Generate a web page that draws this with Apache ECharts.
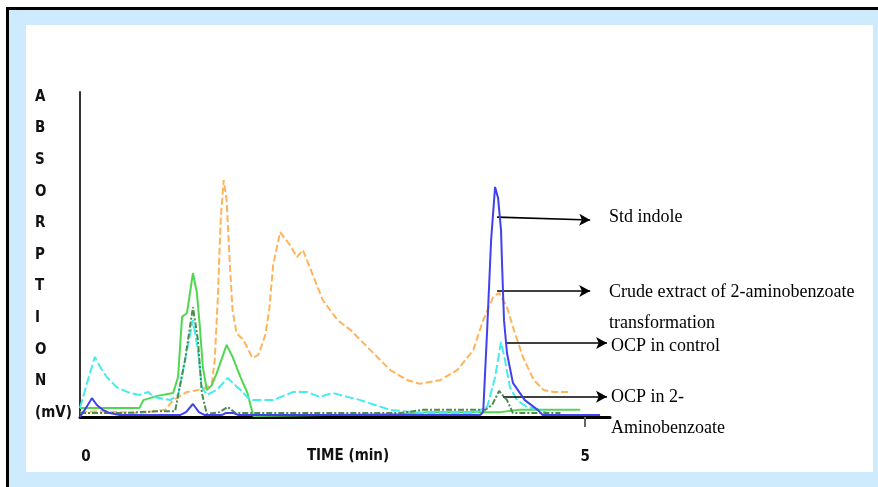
<!DOCTYPE html>
<html>
<head>
<meta charset="utf-8">
<script src="https://cdn.jsdelivr.net/npm/echarts@6/dist/echarts.min.js"></script>
<style>
html,body{margin:0;padding:0;background:#fff;width:878px;height:487px;overflow:hidden}
#frame{position:absolute;left:6px;top:7px;width:872px;height:480px;border-left:3px solid #000;border-top:3px solid #000;background:#cdebfc;box-sizing:border-box}
#panel{position:absolute;left:26px;top:25px;width:847px;height:447px;background:#fff}
#chart{position:absolute;left:0;top:0;width:878px;height:487px}
</style>
</head>
<body>
<div id="frame"></div>
<div id="panel"></div>
<div id="chart"></div>
<script>
// Time (min), absorption (arbitrary mV scale 0-100)
const stdIndole = [[-0.1,0],[-0.04,2.8],[0.02,5.8],[0.07,3.7],[0.13,2.2],[0.2,1.2],[0.3,0.6],[0.91,0.6],[0.97,1.5],[1.04,4.0],[1.1,1.5],[1.16,0.6],[1.33,0.6],[1.37,1.2],[1.45,1.2],[1.5,0.6],[3.94,0.6],[3.97,1.5],[4.01,26.8],[4.05,54.5],[4.09,70.8],[4.12,67.4],[4.15,57.5],[4.16,47.4],[4.18,29.8],[4.21,19.7],[4.27,10.5],[4.39,5.2],[4.52,2.2],[4.57,0.6],[5.15,0.6]];
const crudeExtract = [[-0.1,1.5],[0.1,1.8],[0.5,1.2],[0.76,2.2],[0.84,5.2],[0.98,7.7],[1.14,8.6],[1.23,10.2],[1.26,17.5],[1.29,36.0],[1.32,60.6],[1.35,72.9],[1.38,66.8],[1.41,48.3],[1.44,32.9],[1.48,25.8],[1.55,23.7],[1.64,18.2],[1.7,19.1],[1.77,25.2],[1.81,32.9],[1.85,46.8],[1.92,56.9],[2.02,52.9],[2.09,49.2],[2.15,51.4],[2.25,43.7],[2.35,36.0],[2.5,29.8],[2.63,26.8],[2.73,23.7],[2.86,19.7],[3.03,14.5],[3.2,11.4],[3.33,10.2],[3.54,11.4],[3.71,14.5],[3.87,20.6],[3.97,29.8],[4.07,36.9],[4.13,38.2],[4.21,33.8],[4.27,27.7],[4.37,18.5],[4.48,11.4],[4.58,8.3],[4.68,7.7],[4.83,7.7]];
const ocpControl = [[-0.1,2.8],[-0.02,11.4],[0.05,18.5],[0.11,15.1],[0.17,12.3],[0.27,9.2],[0.4,7.4],[0.5,6.8],[0.59,7.7],[0.64,6.2],[0.81,5.2],[0.89,6.8],[0.96,17.5],[1.04,29.8],[1.09,20.6],[1.13,9.2],[1.18,6.8],[1.28,8.3],[1.39,12.0],[1.52,8.3],[1.62,5.2],[1.85,5.2],[2.05,7.7],[2.19,7.7],[2.32,6.2],[2.45,7.4],[2.6,6.2],[2.73,5.2],[3.03,2.2],[3.36,1.2],[3.87,1.2],[4.01,3.1],[4.09,12.3],[4.15,23.1],[4.19,17.5],[4.24,9.2],[4.31,5.2],[4.41,3.1],[4.55,2.2],[4.62,1.2]];
const greenTrace = [[-0.1,2.8],[0.5,2.8],[0.54,5.2],[0.68,6.5],[0.84,7.4],[0.89,12.3],[0.93,30.8],[0.98,32.0],[1.04,44.3],[1.08,38.2],[1.11,27.7],[1.14,15.4],[1.18,8.3],[1.23,9.8],[1.28,13.5],[1.38,22.2],[1.44,18.5],[1.52,12.3],[1.59,7.4],[1.65,0.3],[3.13,0.9],[3.43,1.5],[4.14,1.5],[4.34,2.2],[4.95,2.2]];
const ocpAminobenzoate = [[-0.1,1.2],[0.3,1.2],[0.71,1.8],[0.86,1.8],[0.96,17.5],[1.04,33.8],[1.09,23.7],[1.13,7.4],[1.18,0.9],[1.31,1.5],[1.39,3.1],[1.47,1.2],[3.13,1.2],[3.36,2.2],[3.87,2.2],[3.99,2.2],[4.06,3.7],[4.13,8.0],[4.21,5.2],[4.27,1.2],[4.75,1.2]];
const xTickLabels = [0, 5];
const yTitleLetters = ['A','B','S','O','R','P','T','I','O','N','(mV)'];
const arrowLines = [
  [[4.11,61.5],[5.05,60.6]],
  [[4.11,38.8],[5.05,38.8]],
  [[4.19,22.8],[5.22,22.8]],
  [[4.17,6.2],[5.22,6.2]]
];
const annotationTexts = [
  ['Std indole'],
  ['Crude extract of 2-aminobenzoate','transformation'],
  ['OCP in control'],
  ['OCP in 2-','Aminobenzoate']
];

const chart = echarts.init(document.getElementById('chart'), null, {renderer:'canvas'});
const sansB = '"Liberation Sans Narrow","Arial Narrow","DejaVu Sans Condensed","Liberation Sans",Arial,sans-serif';
const serif = '"Liberation Serif","Times New Roman",serif';

function lineSeries(name, data, color, type, width, z){
  return {name, type:'line', data, showSymbol:false, symbol:'none', smooth:false, z,
    lineStyle:{color, width, type}, itemStyle:{color}};
}

// first-line centre positions of the annotation texts
const annPos = [[609,217],[609,292],[611,346],[611,397]];
const annLineH = 31;
const graphics = [];
graphics.push({type:'text', left:35, top:97-15.8, style:{text:yTitleLetters.join('\n'), font:'bold 15px '+sansB, fill:'#111', lineHeight:31.6}});
annotationTexts.forEach((lines,i)=>{
  graphics.push({type:'text', x:annPos[i][0], y:annPos[i][1]-annLineH/2, style:{text:lines.join('\n'), font:'18px '+serif, fill:'#000', lineHeight:annLineH, verticalAlign:'top'}});
});

const option = {
  animation:false,
  backgroundColor:'transparent',
  grid:{left:80, top:92, width:530, height:325, containLabel:false},
  xAxis:{type:'value', min:-0.1, max:5.25,
    name:'TIME (min)', nameLocation:'middle', nameGap:32, nameMoveOverlap:false,
    nameTextStyle:{fontFamily:sansB, fontWeight:'bold', fontSize:15, color:'#111', padding:[0,0,0,6]},
    axisLine:{show:true, lineStyle:{color:'#000', width:3}},
    axisTick:{show:true, customValues:[5], length:10, lineStyle:{color:'#666', width:2}},
    axisLabel:{show:true, customValues:xTickLabels, margin:33, fontFamily:sansB, fontWeight:'bold', fontSize:15, color:'#111',
      formatter: v => v === 0 ? '{z|0}' : String(v),
      rich:{z:{fontFamily:sansB, fontWeight:'bold', fontSize:15, color:'#111', padding:[0,8,0,0]}}},
    splitLine:{show:false}},
  yAxis:{type:'value', min:0, max:100,
    axisLine:{show:true, onZero:false, lineStyle:{color:'#333', width:2}},
    axisTick:{show:false}, axisLabel:{show:false}, splitLine:{show:false}},
  series:[
    lineSeries('Crude extract', crudeExtract, '#ffb45a', [7,3], 2, 2),
    lineSeries('Green', greenTrace, '#4fd84f', 'solid', 2, 3),
    lineSeries('OCP in control', ocpControl, '#45ecec', [9,3], 2, 4),
    lineSeries('OCP in 2-Aminobenzoate', ocpAminobenzoate, '#4c8c4c', [6,2,2,2], 2, 5),
    lineSeries('Std indole', stdIndole, '#4141ee', 'solid', 2, 6),
    {name:'arrows', type:'line', data:[], clip:false, z:7,
      markLine:{silent:true, symbol:['none','arrow'], symbolSize:[9,11], animation:false,
        label:{show:false},
        lineStyle:{color:'#000', width:1.6, type:'solid'},
        data: arrowLines.map(p=>[{coord:p[0]},{coord:p[1]}])}}
  ],
  graphic:graphics
};
chart.setOption(option);
</script>
</body>
</html>
